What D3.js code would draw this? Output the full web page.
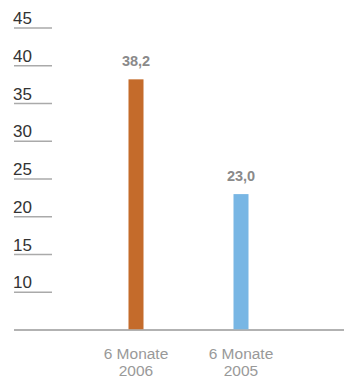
<!DOCTYPE html>
<html><head><meta charset="utf-8">
<script src="https://cdn.jsdelivr.net/npm/d3@7"></script>
<style>body{margin:0;background:#fff}svg{display:block}</style>
</head><body>
<script>
const categories = [["6 Monate","2006"],["6 Monate","2005"]];
const values = [38.2, 23.0];
const valueLabels = ["38,2","23,0"];
const colors = ["#c46b2b","#78b6e4"];
const tickValues = [10,15,20,25,30,35,40,45];

const W=344,H=378;
const svg=d3.select("body").append("svg").attr("width",W).attr("height",H);
const y=d3.scaleLinear().domain([5,45]).range([330,28]);
const x=d3.scalePoint().domain([0,1]).range([136,241]);
const font="'Liberation Sans', Arial, sans-serif";

const yAxis=d3.axisLeft(y).tickValues(tickValues).tickSize(0).tickFormat(d=>d);
const g=svg.append("g");
tickValues.forEach(t=>{
  g.append("line").attr("x1",14).attr("x2",52).attr("y1",y(t)).attr("y2",y(t))
   .attr("stroke","#aaaaaa").attr("stroke-width",1.5);
  g.append("text").attr("x",13).attr("y",y(t)-4).text(yAxis.tickFormat()(t))
   .attr("font-family",font).attr("font-size",17).attr("fill","#333");
});

svg.append("line").attr("x1",14).attr("x2",344).attr("y1",y(5)).attr("y2",y(5))
  .attr("stroke","#999").attr("stroke-width",1.5);

const bw=15;
svg.selectAll("rect.bar").data(values).join("rect")
  .attr("x",(d,i)=>x(i)-bw/2).attr("width",bw)
  .attr("y",d=>y(d)).attr("height",d=>y(5)-y(d)-0.75)
  .attr("fill",(d,i)=>colors[i]);

svg.selectAll("text.val").data(values).join("text")
  .attr("x",(d,i)=>x(i)).attr("y",d=>y(d)-13).attr("text-anchor","middle")
  .attr("font-family",font).attr("font-weight","bold").attr("font-size",14.5)
  .attr("fill","#8a8a8a").text((d,i)=>valueLabels[i]);

categories.forEach((c,i)=>{
  const t=svg.append("text").attr("text-anchor","middle").attr("font-family",font)
    .attr("font-size",15.5).attr("fill","#999");
  t.append("tspan").attr("x",x(i)).attr("y",359).text(c[0]);
  t.append("tspan").attr("x",x(i)).attr("y",376).text(c[1]);
});
</script>
</body></html>
